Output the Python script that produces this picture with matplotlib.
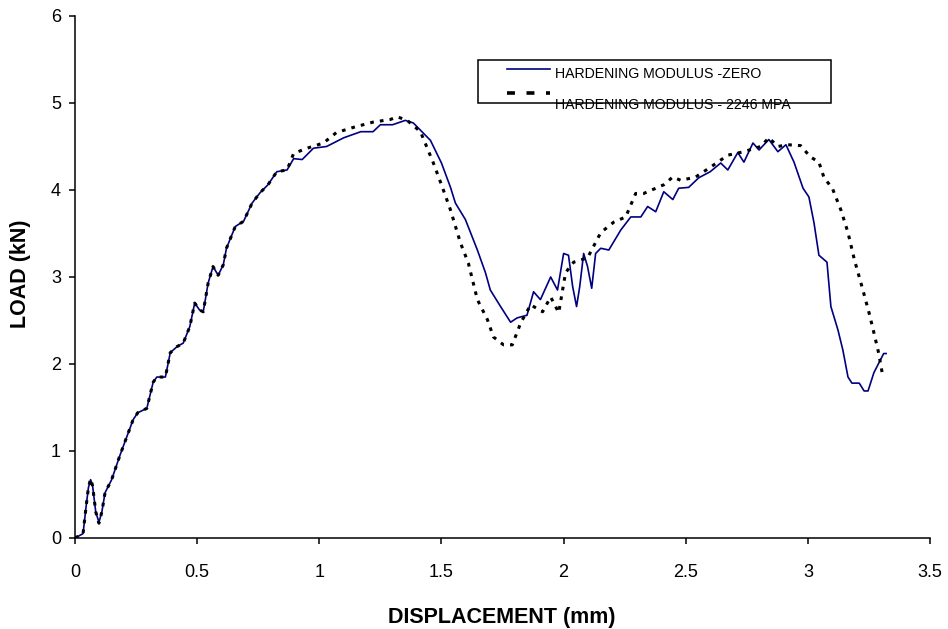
import numpy as np
import matplotlib
matplotlib.use("Agg")
import matplotlib.pyplot as plt
from matplotlib.patches import Rectangle
from matplotlib.lines import Line2D

plt.rcParams['font.family'] = ['Liberation Sans', 'DejaVu Sans']

# hardening modulus zero (solid navy line)
blue_x = [0.0, 0.033, 0.045, 0.055, 0.064, 0.072, 0.085, 0.098, 0.11, 0.123,
          0.15, 0.184, 0.238, 0.257, 0.294, 0.32, 0.335, 0.37, 0.39, 0.418,
          0.443, 0.47, 0.49, 0.51, 0.525, 0.545, 0.565, 0.586, 0.607, 0.62,
          0.656, 0.69, 0.725, 0.758, 0.79, 0.826, 0.868, 0.895, 0.93, 0.976,
          1.03, 1.10, 1.17, 1.22, 1.25, 1.30, 1.352, 1.385, 1.455, 1.50,
          1.537, 1.557, 1.598, 1.647, 1.68, 1.70, 1.742, 1.783, 1.81, 1.85,
          1.877, 1.905, 1.947, 1.975, 2.0, 2.02, 2.037, 2.053, 2.066, 2.082,
          2.098, 2.115, 2.131, 2.152, 2.185, 2.234, 2.275, 2.316, 2.344, 2.377,
          2.41, 2.447, 2.471, 2.512, 2.553, 2.60, 2.643, 2.672, 2.713, 2.738,
          2.775, 2.80, 2.84, 2.877, 2.91, 2.943, 2.98, 3.004, 3.025, 3.045,
          3.078, 3.094, 3.123, 3.143, 3.164, 3.18, 3.21, 3.23, 3.246, 3.27,
          3.31, 3.32]
blue_y = [0.0, 0.05, 0.35, 0.58, 0.67, 0.6, 0.3, 0.18, 0.3, 0.52,
          0.67, 0.95, 1.36, 1.44, 1.49, 1.79, 1.85, 1.85, 2.13, 2.2,
          2.24, 2.43, 2.7, 2.62, 2.6, 2.93, 3.12, 3.02, 3.14, 3.33,
          3.58, 3.64, 3.85, 3.97, 4.06, 4.21, 4.23, 4.36, 4.35, 4.48,
          4.5, 4.6, 4.67, 4.67, 4.75, 4.75, 4.8, 4.77, 4.57, 4.31,
          4.03, 3.85, 3.66, 3.31, 3.05, 2.85, 2.66, 2.48, 2.53, 2.56,
          2.83, 2.74, 3.0, 2.85, 3.27, 3.25, 2.89, 2.66, 2.89, 3.27,
          3.12, 2.87, 3.27, 3.33, 3.31, 3.54, 3.69, 3.69, 3.81, 3.75,
          3.98, 3.89, 4.02, 4.03, 4.14, 4.21, 4.31, 4.23, 4.43, 4.32,
          4.54, 4.46, 4.58, 4.44, 4.52, 4.32, 4.02, 3.92, 3.62, 3.25,
          3.17, 2.66, 2.39, 2.16, 1.85, 1.78, 1.78, 1.69, 1.69, 1.9,
          2.12, 2.12]

# hardening modulus 2246 MPa (dotted black line)
black_x = [0.0, 0.033, 0.045, 0.055, 0.064, 0.072, 0.085, 0.098, 0.11, 0.123,
           0.15, 0.184, 0.238, 0.257, 0.294, 0.32, 0.335, 0.37, 0.39, 0.418,
           0.443, 0.47, 0.49, 0.51, 0.525, 0.545, 0.565, 0.586, 0.607, 0.62,
           0.656, 0.69, 0.725, 0.758, 0.79, 0.826, 0.868, 0.895, 0.95, 1.017,
           1.07, 1.14, 1.22, 1.29, 1.32, 1.36, 1.414, 1.467, 1.504, 1.537,
           1.578, 1.61, 1.647, 1.688, 1.713, 1.754, 1.79, 1.824, 1.865, 1.914,
           1.947, 1.98, 2.008, 2.041, 2.098, 2.152, 2.205, 2.254, 2.295, 2.328,
           2.41, 2.447, 2.48, 2.541, 2.60, 2.672, 2.738, 2.807, 2.84, 2.877,
           2.918, 2.97, 3.01, 3.045, 3.066, 3.10, 3.135, 3.164, 3.19, 3.225,
           3.25, 3.27, 3.29, 3.307]
black_y = [0.0, 0.05, 0.35, 0.58, 0.68, 0.6, 0.3, 0.17, 0.3, 0.52,
           0.67, 0.95, 1.36, 1.44, 1.49, 1.79, 1.85, 1.85, 2.13, 2.2,
           2.24, 2.43, 2.7, 2.62, 2.6, 2.93, 3.12, 3.02, 3.14, 3.33,
           3.58, 3.64, 3.85, 3.97, 4.06, 4.21, 4.23, 4.42, 4.48, 4.54,
           4.66, 4.72, 4.78, 4.81, 4.84, 4.8, 4.67, 4.31, 4.03, 3.77,
           3.39, 3.16, 2.74, 2.51, 2.31, 2.22, 2.22, 2.47, 2.68, 2.6,
           2.77, 2.59, 3.05, 3.17, 3.22, 3.51, 3.63, 3.69, 3.96, 3.96,
           4.06, 4.15, 4.11, 4.15, 4.26, 4.4, 4.44, 4.5, 4.6, 4.5,
           4.52, 4.51, 4.38, 4.32, 4.14, 4.02, 3.77, 3.51, 3.2, 2.85,
           2.59, 2.36, 2.12, 1.85]

x_ticks = [0, 0.5, 1, 1.5, 2, 2.5, 3, 3.5]
x_ticklabels = ['0', '0.5', '1', '1.5', '2', '2.5', '3', '3.5']
y_ticks = [0, 1, 2, 3, 4, 5, 6]

label_zero = 'HARDENING MODULUS -ZERO'
label_2246 = 'HARDENING MODULUS - 2246 MPA'

navy = '#000080'

fig = plt.figure(figsize=(9.48, 6.29), dpi=100)
ax = fig.add_axes([0.0791, 0.1447, 0.902, 0.8299])

ax.plot(blue_x, blue_y, color=navy, lw=1.2, zorder=2)
ax.plot(black_x, black_y, color='black', lw=2.2, dashes=(1.2, 2.0),
        dash_capstyle='butt', zorder=3)

ax.set_xlim(0, 3.5)
ax.set_ylim(0, 6)
ax.set_xticks(x_ticks)
ax.set_xticklabels(x_ticklabels)
ax.set_yticks(y_ticks)

for s in ['top', 'right']:
    ax.spines[s].set_visible(False)
for s in ['left', 'bottom']:
    ax.spines[s].set_linewidth(1.1)
ax.tick_params(axis='both', direction='out', length=4, width=1.1, labelsize=13)
ax.tick_params(axis='x', pad=15)
ax.tick_params(axis='y', pad=6)

fig.text(502 / 948, 1 - 618 / 629, 'DISPLACEMENT (mm)', ha='center', va='center',
         fontsize=15.5, fontweight='bold')
fig.text(21 / 948, 1 - 274 / 629, 'LOAD (kN)', ha='center', va='center',
         rotation=90, fontsize=15.5, fontweight='bold')

# legend box, drawn by hand so the second label gets cut by the frame
box = Rectangle((0.471, 0.833), 0.413, 0.0824, transform=ax.transAxes,
                fill=False, ec='black', lw=1.1, clip_on=False, zorder=5)
ax.add_patch(box)
ax.add_line(Line2D([0.505, 0.556], [0.8985, 0.8985], transform=ax.transAxes,
                   color=navy, lw=1.2, clip_on=False, zorder=5))
ax.add_line(Line2D([0.505, 0.556], [0.853, 0.853], transform=ax.transAxes,
                   color='black', lw=2.6, dashes=(2.2, 3.2), dash_capstyle='butt',
                   clip_on=False, zorder=5))
ax.text(0.5614, 0.8812, label_zero, transform=ax.transAxes, fontsize=10.2,
        va='baseline', ha='left', zorder=5)
t2 = ax.text(0.5614, 0.8225, label_2246, transform=ax.transAxes, fontsize=10.2,
             va='baseline', ha='left', zorder=5)
t2.set_clip_path(box)

fig.savefig('out.png', dpi=100)
